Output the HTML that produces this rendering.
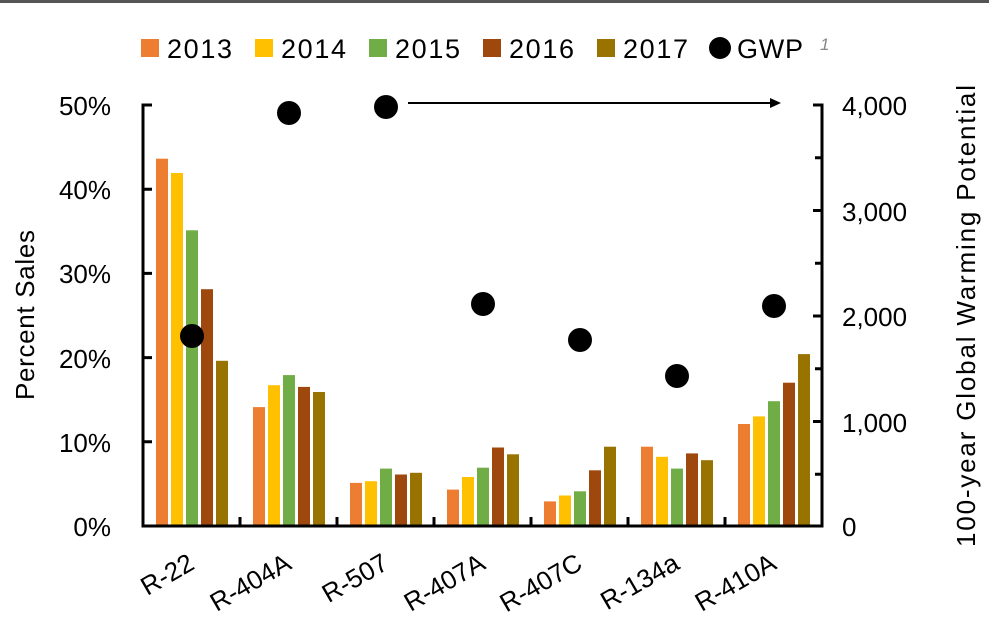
<!DOCTYPE html>
<html><head><style>body{margin:0;background:#fff}svg{display:block}text{font-family:"Liberation Sans",sans-serif;fill:#000}</style></head><body>
<svg width="989" height="637" viewBox="0 0 989 637">
<rect x="0" y="0" width="989" height="3" fill="#555"/>
<g style="font-size:27px">
<rect x="141" y="39" width="18" height="18" fill="#ED7D31"/><text x="167" y="58" textLength="65">2013</text>
<rect x="255" y="39" width="18" height="18" fill="#FFC000"/><text x="281" y="58" textLength="65">2014</text>
<rect x="369" y="39" width="18" height="18" fill="#70AD47"/><text x="395" y="58" textLength="65">2015</text>
<rect x="483" y="39" width="18" height="18" fill="#9E480E"/><text x="509" y="58" textLength="65">2016</text>
<rect x="597" y="39" width="18" height="18" fill="#997300"/><text x="623" y="58" textLength="65">2017</text>
<circle cx="720" cy="48" r="11" fill="#000"/><text x="737" y="58" textLength="66">GWP</text>
<text x="820" y="50" style="font-size:17px;font-style:italic;fill:#888">1</text>
</g>
<g>
<rect x="156" y="158.7" width="12" height="366.3" fill="#ED7D31"/><rect x="171" y="173" width="12" height="352" fill="#FFC000"/><rect x="186" y="230.3" width="12" height="294.7" fill="#70AD47"/><rect x="201" y="289.2" width="12" height="235.8" fill="#9E480E"/><rect x="216" y="360.8" width="12" height="164.2" fill="#997300"/>
<rect x="253" y="407.1" width="12" height="117.9" fill="#ED7D31"/><rect x="268" y="385.2" width="12" height="139.8" fill="#FFC000"/><rect x="283" y="375.1" width="12" height="149.9" fill="#70AD47"/><rect x="298" y="386.9" width="12" height="138.1" fill="#9E480E"/><rect x="313" y="392" width="12" height="133" fill="#997300"/>
<rect x="350" y="482.9" width="12" height="42.1" fill="#ED7D31"/><rect x="365" y="481.2" width="12" height="43.8" fill="#FFC000"/><rect x="380" y="468.6" width="12" height="56.4" fill="#70AD47"/><rect x="395" y="474.5" width="12" height="50.5" fill="#9E480E"/><rect x="410" y="472.8" width="12" height="52.2" fill="#997300"/>
<rect x="447" y="489.6" width="12" height="35.4" fill="#ED7D31"/><rect x="462" y="477" width="12" height="48" fill="#FFC000"/><rect x="477" y="467.7" width="12" height="57.3" fill="#70AD47"/><rect x="492" y="447.5" width="12" height="77.5" fill="#9E480E"/><rect x="507" y="454.3" width="12" height="70.7" fill="#997300"/>
<rect x="544" y="501.4" width="12" height="23.6" fill="#ED7D31"/><rect x="559" y="495.5" width="12" height="29.5" fill="#FFC000"/><rect x="574" y="491.3" width="12" height="33.7" fill="#70AD47"/><rect x="589" y="470.3" width="12" height="54.7" fill="#9E480E"/><rect x="604" y="446.7" width="12" height="78.3" fill="#997300"/>
<rect x="641" y="446.7" width="12" height="78.3" fill="#ED7D31"/><rect x="656" y="456.8" width="12" height="68.2" fill="#FFC000"/><rect x="671" y="468.6" width="12" height="56.4" fill="#70AD47"/><rect x="686" y="453.4" width="12" height="71.6" fill="#9E480E"/><rect x="701" y="460.2" width="12" height="64.8" fill="#997300"/>
<rect x="738" y="424" width="12" height="101" fill="#ED7D31"/><rect x="753" y="416.4" width="12" height="108.6" fill="#FFC000"/><rect x="768" y="401.2" width="12" height="123.8" fill="#70AD47"/><rect x="783" y="382.7" width="12" height="142.3" fill="#9E480E"/><rect x="798" y="354.1" width="12" height="170.9" fill="#997300"/>
</g>
<g stroke="#000" stroke-width="3" fill="none">
<path d="M152 105H143V526H822V105H813"/>
<path d="M143 189.2H152M143 273.4H152M143 357.6H152M143 441.8H152"/>
<path d="M822 157.8H815M822 210.5H813M822 263.3H815M822 316H813M822 368.8H815M822 421.5H813M822 474.3H815"/>
<path d="M240 526V517M337 526V517M434 526V517M531 526V517M628 526V517M725 526V517"/>
</g>
<g style="font-size:26px" text-anchor="end">
<text x="111" y="115">50%</text><text x="111" y="199">40%</text><text x="111" y="283">30%</text><text x="111" y="368">20%</text><text x="111" y="452">10%</text><text x="111" y="536">0%</text>
</g>
<g style="font-size:26px">
<text x="842" y="115">4,000</text><text x="842" y="221">3,000</text><text x="842" y="326">2,000</text><text x="842" y="432">1,000</text><text x="842" y="536">0</text>
</g>
<text style="font-size:26px" transform="translate(34,315) rotate(-90)" text-anchor="middle" textLength="170">Percent Sales</text>
<text style="font-size:26px" transform="translate(975,316) rotate(-90)" text-anchor="middle" textLength="462">100-year Global Warming Potential</text>
<g style="font-size:26px" text-anchor="end">
<text transform="translate(196,568) rotate(-30)">R-22</text>
<text transform="translate(293,568) rotate(-30)">R-404A</text>
<text transform="translate(390,568) rotate(-30)">R-507</text>
<text transform="translate(487,568) rotate(-30)">R-407A</text>
<text transform="translate(584,568) rotate(-30)">R-407C</text>
<text transform="translate(681,568) rotate(-30)">R-134a</text>
<text transform="translate(778,568) rotate(-30)">R-410A</text>
</g>
<path d="M408 103H772" stroke="#000" stroke-width="2"/><path d="M781 103L770 98V108Z" fill="#000"/>
<g fill="#000">
<circle cx="192" cy="336" r="12"/><circle cx="289" cy="113" r="12"/><circle cx="386" cy="107" r="12"/><circle cx="483" cy="304" r="12"/><circle cx="580" cy="340" r="12"/><circle cx="677" cy="376" r="12"/><circle cx="774" cy="306" r="12"/>
</g>
</svg>
</body></html>
